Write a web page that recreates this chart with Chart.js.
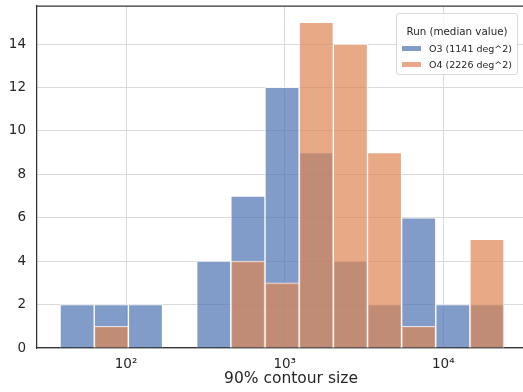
<!DOCTYPE html>
<html>
<head>
<meta charset="utf-8">
<script src="https://cdn.jsdelivr.net/npm/chart.js@4.4.0/dist/chart.umd.min.js"></script>
<style>
  html, body { margin: 0; padding: 0; background: #fff; overflow: hidden; }
  #wrap { position: relative; width: 545px; height: 392px; }
  #legend {
    position: absolute; left: 396px; top: 13px; width: 120px; height: 60px;
    border: 1px solid #d8d8d8; border-radius: 3px; background: rgba(255,255,255,0.8);
    font-family: 'DejaVu Sans', sans-serif; font-size: 9.5px; color: #262626;
  }
  #legend .title { position: absolute; left: 0; right: 0; top: 11px; text-align: center; font-size: 10.3px; }
  #legend .item { position: absolute; left: 5px; height: 12px; line-height: 12px; white-space: nowrap; }
  #legend .sw { display: inline-block; width: 19px; height: 5px; margin-right: 8px; vertical-align: 1px; }
</style>
</head>
<body>
<div id="wrap">
  <canvas id="histChart" width="545" height="392"></canvas>
  <div id="legend">
    <div class="title">Run (median value)</div>
    <div class="item" style="top:29px"><span class="sw" style="background:rgba(76,114,176,0.7)"></span>O3 (1141 deg^2)</div>
    <div class="item" style="top:45px"><span class="sw" style="background:rgba(221,132,82,0.7)"></span>O4 (2226 deg^2)</div>
  </div>
</div>
<script>
// bin edges (deg^2)
const binEdges = [38.4, 63.0, 103.5, 169.9, 278.8, 458.0, 751.6, 1234, 2027, 3327, 5461, 8966, 14720, 24150];
// counts per bin
const countsO3 = [2, 2, 2, 0, 4, 7, 12, 9, 4, 2, 6, 2, 2];
const countsO4 = [0, 1, 0, 0, 0, 4, 3, 15, 14, 9, 1, 0, 5];
const seriesNames = ['O3 (1141 deg^2)', 'O4 (2226 deg^2)'];
const xTicks = [100, 1000, 10000];
const xTickLabels = ['10²', '10³', '10⁴'];
const yTicks = [0, 2, 4, 6, 8, 10, 12, 14];

const binCenters = binEdges.slice(0, -1).map((e, i) => Math.sqrt(e * binEdges[i + 1]));

function toPoints(counts) {
    return counts.map((c, i) => ({ x: binCenters[i], y: c }));
}

const fontFamily = "'DejaVu Sans', sans-serif";
const textColor = '#262626';

// top spine, matplotlib style frame
const topSpine = {
    id: 'topSpine',
    afterDraw(chart) {
        const ctx = chart.ctx;
        const a = chart.chartArea;
        ctx.save();
        ctx.strokeStyle = '#333333';
        ctx.lineWidth = 1.25;
        ctx.beginPath();
        ctx.moveTo(a.left, a.top);
        ctx.lineTo(a.right, a.top);
        ctx.stroke();
        ctx.restore();
    }
};

// no extra room for labels at the ends of the axes
function noEndPadding(s) {
    s.paddingTop = 0;
    s.paddingBottom = 0;
    s.paddingLeft = 0;
    s.paddingRight = 0;
}

const ctx = document.getElementById('histChart').getContext('2d');
new Chart(ctx, {
    type: 'bar',
    data: {
        datasets: [{
            label: seriesNames[0],
            data: toPoints(countsO3),
            backgroundColor: 'rgba(76, 114, 176, 0.7)',
            borderColor: 'rgba(255, 255, 255, 0.75)',
            borderWidth: { top: 1, left: 1, right: 1, bottom: 0 },
            order: 2
        }, {
            label: seriesNames[1],
            data: toPoints(countsO4),
            backgroundColor: 'rgba(221, 132, 82, 0.7)',
            borderColor: 'rgba(255, 255, 255, 0.75)',
            borderWidth: { top: 1, left: 1, right: 1, bottom: 0 },
            order: 1
        }]
    },
    options: {
        responsive: false,
        animation: false,
        layout: { padding: { top: 6, left: 0, right: 0, bottom: 0 } },
        datasets: {
            bar: { grouped: false, barPercentage: 1, categoryPercentage: 1 }
        },
        plugins: {
            legend: { display: false },
            tooltip: { enabled: false }
        },
        scales: {
            x: {
                type: 'logarithmic',
                min: 27.46,
                max: 43760,
                offset: false,
                afterBuildTicks: s => { s.ticks = xTicks.map(v => ({ value: v })); },
                afterFit: s => { s.height = 44; noEndPadding(s); },
                grid: { color: '#dadada', lineWidth: 1, drawTicks: false, offset: false },
                border: { color: '#333333', width: 1.25 },
                ticks: {
                    color: textColor,
                    font: { family: fontFamily, size: 13.5 },
                    padding: 8,
                    maxRotation: 0,
                    callback: (v) => xTickLabels[xTicks.indexOf(v)]
                },
                title: {
                    display: true,
                    text: '90% contour size',
                    color: textColor,
                    font: { family: fontFamily, size: 15.5 },
                    padding: { top: 0, bottom: 4 }
                }
            },
            y: {
                min: 0,
                max: 15.75,
                afterBuildTicks: s => { s.ticks = yTicks.map(v => ({ value: v })); },
                afterFit: s => { s.width = 37; noEndPadding(s); },
                grid: { color: '#dadada', lineWidth: 1, drawTicks: false },
                border: { color: '#333333', width: 1.25 },
                ticks: {
                    color: textColor,
                    font: { family: fontFamily, size: 13.5 },
                    padding: 11
                }
            }
        }
    },
    plugins: [topSpine]
});
</script>
</body>
</html>
